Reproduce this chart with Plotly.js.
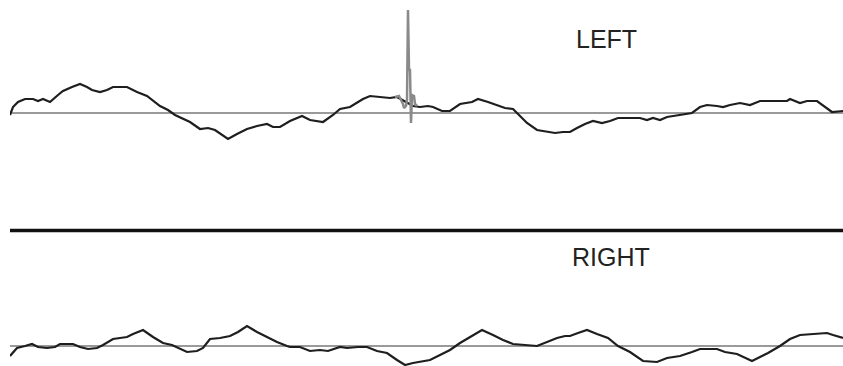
<!DOCTYPE html>
<html>
<head>
<meta charset="utf-8">
<script src="https://cdn.plot.ly/plotly-3.0.1.min.js"></script>
<style>html,body{margin:0;padding:0;background:#fff;}#chart{width:843px;height:366px;}</style>
</head>
<body>
<div id="chart"></div>
<script>
// LEFT channel (sample index, amplitude)
const leftT = [0,3,8,15,23,28,33,40,48,53,62,70,77,82,90,97,103,117,127,137,150,158,165,172,180,190,198,205,212,218,227,237,247,257,263,270,280,292,300,313,323,330,340,353,360,370,380,387,392,398,403,410,418,423,432,440,450,462,468,478,487,495,503,508,517,527,537,545,553,560,567,575,583,592,600,608,630,637,643,650,657,670,682,690,697,707,713,720,730,740,750,777,780,790,797,807,817,822,833];
const leftV = [-2,6,11,14,14,12,14,11,18,22,26,29,26,23,21,23,26,26,21,17,7,3,-2,-5,-9,-16,-15,-17,-22,-26,-21,-16,-13,-11,-14,-14,-8,-3,-7,-9,-2,4,6,14,17,16,15,16,13,10,7,6,7,6,2,2,9,11,14,11,8,5,4,-1,-10,-17,-19,-20,-19,-19,-15,-11,-8,-10,-8,-5,-5,-7,-5,-7,-4,-2,0,6,8,7,6,8,10,8,12,12,14,10,12,12,5,1,2];
// LEFT artifact spike
const spikeT = [385,389,391,393,394,396,397,398,399,400,401,402,404,405,407];
const spikeV = [16,17,13,9,5,7,13,103,43,43,-10,18,17,9,7];
// RIGHT channel
const rightT = [0,7,15,22,28,37,45,50,63,70,78,87,93,103,110,117,123,133,143,153,162,172,177,187,193,200,210,220,228,237,247,257,267,277,280,290,300,310,318,330,337,348,357,367,377,387,395,403,413,420,430,440,450,460,472,483,493,503,513,527,537,547,555,560,568,577,587,598,608,620,633,647,657,670,682,690,707,715,727,735,742,750,758,770,780,790,803,817,823,833];
const rightV = [-10,-2,0,2,-1,-2,-1,2,2,-1,-3,-2,1,7,8,9,12,16,9,3,1,-4,-6,-5,-2,7,8,10,14,20,14,9,4,0,-1,-1,-5,-4,-5,-1,-2,-1,-1,-5,-7,-14,-19,-17,-15,-14,-9,-4,3,9,16,11,6,2,1,0,4,8,10,10,13,16,12,8,0,-6,-15,-16,-12,-10,-6,-3,-3,-6,-8,-12,-15,-11,-7,0,7,11,12,13,11,8];
const labels = ['LEFT', 'RIGHT'];

const traceLine = {color: '#1e1e1e', width: 2.2};
const data = [
  {x: leftT, y: leftV, type: 'scatter', mode: 'lines', line: traceLine, xaxis: 'x', yaxis: 'y', hoverinfo: 'skip'},
  {x: spikeT, y: spikeV, type: 'scatter', mode: 'lines', line: {color: '#8a8a8a', width: 2.5}, xaxis: 'x', yaxis: 'y', hoverinfo: 'skip'},
  {x: rightT, y: rightV, type: 'scatter', mode: 'lines', line: traceLine, xaxis: 'x', yaxis: 'y2', hoverinfo: 'skip'}
];

const axBase = {showgrid: false, showticklabels: false, ticks: '', showline: false};
const layout = {
  width: 843, height: 366,
  margin: {l: 10, r: 0, t: 0, b: 0},
  paper_bgcolor: '#ffffff', plot_bgcolor: '#ffffff',
  showlegend: false,
  xaxis: Object.assign({}, axBase, {range: [0, 833], zeroline: false}),
  yaxis: Object.assign({}, axBase, {domain: [1 - 220/366, 1], range: [-107, 113], zeroline: true, zerolinecolor: '#9a9a9a', zerolinewidth: 1.5}),
  yaxis2: Object.assign({}, axBase, {domain: [0, 135/366], range: [-20, 115], zeroline: true, zerolinecolor: '#9a9a9a', zerolinewidth: 1.5, anchor: 'x'}),
  shapes: [
    {type: 'line', xref: 'paper', yref: 'paper', x0: 0, x1: 1, y0: 1 - 230.5/366, y1: 1 - 230.5/366, line: {color: '#111', width: 3.5}}
  ],
  annotations: [
    {text: labels[0], xref: 'paper', yref: 'paper', x: (574 - 10)/833, y: 1 - 39/366, xanchor: 'left', yanchor: 'middle', showarrow: false, font: {family: 'Liberation Sans, Arial, sans-serif', size: 25, color: '#222'}},
    {text: labels[1], xref: 'paper', yref: 'paper', x: (570 - 10)/833, y: 1 - 257/366, xanchor: 'left', yanchor: 'middle', showarrow: false, font: {family: 'Liberation Sans, Arial, sans-serif', size: 25, color: '#222'}}
  ]
};

Plotly.newPlot('chart', data, layout, {displayModeBar: false, staticPlot: true});
</script>
</body>
</html>
